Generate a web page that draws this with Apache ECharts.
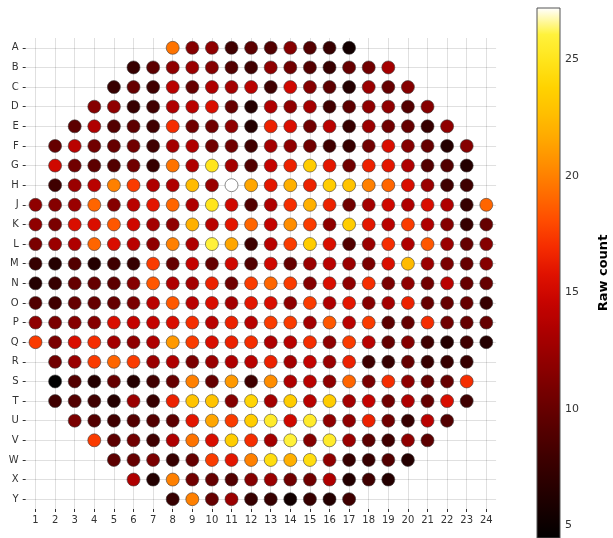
<!DOCTYPE html>
<html>
<head>
<meta charset="utf-8">
<script src="https://cdn.jsdelivr.net/npm/echarts@6/dist/echarts.min.js"></script>
<style>
  html, body { margin: 0; padding: 0; background: #ffffff; }
  #chart { width: 613px; height: 538px; }
</style>
</head>
<body>
<div id="chart"></div>
<script>
// Die rows (no "I") and columns of the wafer map
const rowLabels = ['A','B','C','D','E','F','G','H','J','K','L','M','N','O','P','Q','R','S','T','U','V','W','X','Y'];
const colLabels = ['1','2','3','4','5','6','7','8','9','10','11','12','13','14','15','16','17','18','19','20','21','22','23','24'];

// First populated column (1-based) of each row
const firstCol = [8, 6, 5, 4, 3, 2, 2, 2, 1, 1, 1, 1, 1, 1, 1, 1, 2, 2, 2, 3, 4, 5, 6, 8];

// Raw counts per row, left to right starting at firstCol
const countsA = [19.5, 11.5, 12, 8, 9.5, 9, 11.5, 9, 7.5, 5.5];
const countsB = [7.5, 9.5, 12, 12.5, 11.5, 9, 8, 12, 10.5, 9, 7.5, 10, 10.5, 13];
const countsC = [7.5, 10, 8, 14, 10, 13.5, 13, 14, 8, 15, 11.5, 9.5, 6.5, 12.5, 10, 11.5];
const countsD = [11.5, 12, 7.5, 8, 13.5, 14, 15.5, 10, 6.5, 13.5, 12, 13, 8, 9.5, 12, 12, 9, 11.5];
const countsE = [9.5, 13.5, 9, 9.5, 8, 17, 10.5, 10.5, 12, 6.5, 16.5, 15.5, 10.5, 14, 7.5, 12.5, 10.5, 10, 7.5, 12];
const countsF = [10, 14, 10.5, 10, 10.5, 8, 13, 13.5, 10.5, 10.5, 8, 13, 12, 10.5, 8, 7.5, 10.5, 15.5, 11.5, 10, 6.5, 11.5];
const countsG = [15, 10.5, 9.5, 9, 10.5, 7.5, 19.5, 13.5, 25, 13, 9, 14.5, 16.5, 23.5, 16, 10.5, 16.5, 16, 13.5, 9, 9, 6.5];
const countsH = [8, 12.5, 14, 20, 17.5, 13.5, 13.5, 22.5, 12.5, 27.2, 21.5, 16, 22, 16.5, 23.5, 23, 20, 19, 15.5, 12.5, 8, 8];
const countsJ = [12, 11.5, 12.5, 19, 11.5, 14, 16, 19, 13.5, 25, 15, 9, 13.5, 17, 22, 16.5, 10.5, 13, 15, 13.5, 15.5, 13.5, 7.5, 19];
const countsK = [12, 11, 15.5, 15.5, 18.5, 15, 13, 12, 22, 14, 16, 19, 14.5, 20.5, 17.5, 12, 23.5, 16, 14, 17.5, 13.5, 11.5, 7.5, 10];
const countsL = [11, 12.5, 13.5, 19, 15.5, 14, 12, 20, 13.5, 26, 21.5, 8, 14, 17.5, 23.5, 15.5, 9, 12.5, 17, 13.5, 18.5, 12.5, 10, 11.5];
const countsM = [7.5, 6.5, 9, 6.5, 8, 7.5, 17.5, 10, 14.5, 10, 15, 9, 15, 10, 12.5, 14, 12.5, 11, 15.5, 22.5, 12.5, 11, 10, 11.5];
const countsN = [6.5, 7.5, 10, 10, 9.5, 11.5, 18.5, 13.5, 13, 16.5, 10.5, 17.5, 19, 17.5, 11.5, 15.5, 12, 17, 11, 12, 10.5, 14, 10, 10];
const countsO = [9, 8, 10, 10, 10, 11, 14, 18.5, 14, 15.5, 13, 16, 15.5, 12, 17.5, 13.5, 16, 11.5, 13, 16.5, 10, 10, 10, 7.5];
const countsP = [12, 11, 11.5, 11.5, 15.5, 14.5, 14.5, 15.5, 17, 14, 16.5, 14, 17.5, 17.5, 13, 18.5, 14, 17.5, 9.5, 10, 17, 10.5, 10, 10];
const countsQ = [17.5, 11, 15.5, 17, 13, 12, 13.5, 21, 17.5, 15.5, 16.5, 17, 13.5, 14, 17, 12, 17.5, 14, 10, 11.5, 8, 6.5, 8, 6.5];
const countsR = [10.5, 12.5, 17.5, 19, 17.5, 12.5, 13.5, 11, 12.5, 13.5, 14, 16.5, 13, 14.5, 12.5, 16.5, 8, 7.5, 10, 7.5, 7.5, 7.5];
const countsS = [4.5, 9, 6.5, 10, 6.5, 8, 10, 20, 10, 21, 8, 20.5, 13.5, 14, 12, 19, 11, 17, 12, 10, 10, 17];
const countsT = [8, 9, 8, 6.5, 12.5, 7.5, 16.5, 23, 23, 11.5, 24, 13, 23.5, 14, 23.5, 13, 14.5, 10.5, 13.5, 10, 15.5, 8];
const countsU = [11, 9, 8, 9, 9, 9.5, 16, 21.5, 17.5, 23.5, 25.5, 15, 25.5, 12, 12, 16.5, 10.5, 7.5, 14, 9];
const countsV = [17.5, 9.5, 10.5, 8, 13.5, 19.5, 15.5, 23.5, 17, 13, 26, 11.5, 25.5, 12.5, 9.5, 8, 12, 9.5];
const countsW = [9.5, 10, 11, 7.5, 10, 17.5, 16, 20, 24.5, 22, 24.5, 12, 7.5, 7.5, 9, 6.5];
const countsX = [13.5, 6.5, 20, 10.5, 10, 9, 11.5, 12.5, 10.5, 10.5, 13.5, 6.5, 8, 6.5];
const countsY = [7.5, 20, 10, 12.5, 7.5, 7.5, 5.5, 7.5, 6.5, 8];

const rowCounts = [countsA, countsB, countsC, countsD, countsE, countsF, countsG, countsH,
  countsJ, countsK, countsL, countsM, countsN, countsO, countsP, countsQ,
  countsR, countsS, countsT, countsU, countsV, countsW, countsX, countsY];

// Colour scale
const countMin = 4.45;
const countMax = 27.2;
const colorTicks = [5, 10, 15, 20, 25];
const fireColors = [
  '#000000', '#140000', '#280000', '#3c0000', '#520000', '#680000', '#800000',
  '#980000', '#b00000', '#c80400', '#e01200', '#f52c00', '#ff4c00', '#ff6c00',
  '#ff8a00', '#ffa600', '#ffbe00', '#ffd200', '#ffe41a', '#fff23c', '#ffffff'
];

// [column index, row index, count] for each die
const dies = [];
rowCounts.forEach((vals, r) => {
  vals.forEach((v, j) => {
    dies.push([firstCol[r] - 1 + j, r, v]);
  });
});

const font = 'DejaVu Sans';
const textColor = '#333333';
const gridColor = 'rgba(0,0,0,0.12)';

const chart = echarts.init(document.getElementById('chart'), null, { renderer: 'canvas' });

chart.setOption({
  animation: false,
  backgroundColor: '#ffffff',
  textStyle: { fontFamily: font },
  grid: [
    { left: 25.7, top: 38, width: 470.4, height: 471, containLabel: false },
    { left: 537, top: 8, width: 23, height: 532, show: true, z: 5,
      backgroundColor: 'transparent', borderColor: '#555555', borderWidth: 1 }
  ],
  xAxis: [
    {
      gridIndex: 0,
      type: 'category',
      data: colLabels,
      boundaryGap: true,
      axisLine: { show: false },
      axisTick: { show: true, interval: 0, alignWithLabel: true, length: 3,
                  lineStyle: { color: '#333333', width: 1 } },
      axisLabel: { interval: 0, fontSize: 10, color: textColor, margin: 6, fontFamily: font },
      splitLine: { show: true, interval: 0, alignWithLabel: true,
                   lineStyle: { color: gridColor, width: 1 } }
    },
    { gridIndex: 1, type: 'value', show: false, min: 0, max: 1 }
  ],
  yAxis: [
    {
      gridIndex: 0,
      type: 'category',
      data: rowLabels,
      inverse: true,
      boundaryGap: true,
      axisLine: { show: false },
      axisTick: { show: true, interval: 0, alignWithLabel: true, length: 3,
                  lineStyle: { color: '#333333', width: 1 } },
      axisLabel: { interval: 0, fontSize: 10, color: textColor, margin: 7, fontFamily: font },
      splitLine: { show: true, interval: 0, alignWithLabel: true,
                   lineStyle: { color: gridColor, width: 1 } }
    },
    {
      gridIndex: 1,
      type: 'value',
      position: 'right',
      min: countMin,
      max: countMax,
      axisLine: { show: false },
      axisTick: { show: true, length: 3, customValues: colorTicks,
                  lineStyle: { color: '#333333', width: 1 } },
      axisLabel: { fontSize: 11, color: textColor, margin: 5, customValues: colorTicks, fontFamily: font },
      splitLine: { show: false },
      name: 'Raw count',
      nameLocation: 'middle',
      nameRotate: 90,
      nameGap: 37,
      nameTextStyle: { fontSize: 13, fontWeight: 'bold', color: '#000000', fontFamily: font }
    }
  ],
  visualMap: {
    type: 'continuous',
    seriesIndex: 0,
    dimension: 2,
    min: countMin,
    max: countMax,
    calculable: false,
    orient: 'vertical',
    left: 537,
    top: 8,
    itemWidth: 23,
    itemHeight: 532,
    padding: 0,
    text: null,
    hoverLink: false,
    inRange: { color: fireColors }
  },
  series: [
    {
      type: 'scatter',
      xAxisIndex: 0,
      yAxisIndex: 0,
      data: dies,
      symbol: 'circle',
      symbolSize: 13,
      itemStyle: { borderColor: 'rgba(60,60,60,0.85)', borderWidth: 0.7, opacity: 1 }
    }
  ]
});
</script>
</body>
</html>
